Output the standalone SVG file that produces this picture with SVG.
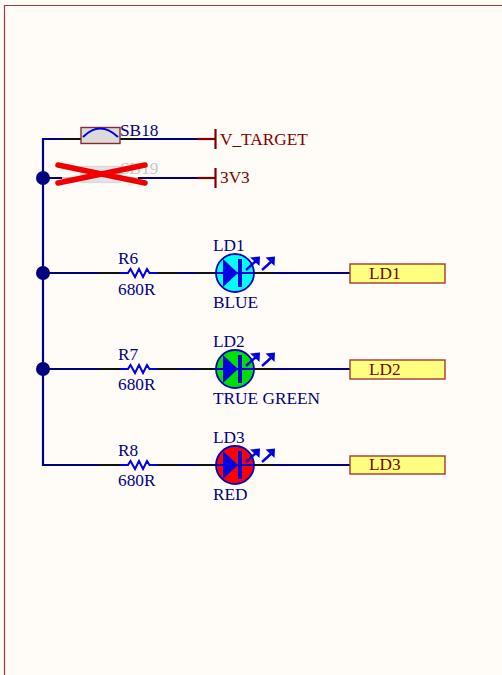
<svg xmlns="http://www.w3.org/2000/svg" width="502" height="675" viewBox="0 0 502 675">
<style>
text{font-family:"Liberation Serif","Times New Roman",serif;font-size:17.3px;fill:#000080}
.pw{fill:#800000}
.w,.k,.b,.r{fill:none;stroke-width:2.2}
.res{fill:none;stroke:#0000e0;stroke-width:2}
.w{stroke:#000080}.k{stroke:#111}.b{stroke:#0000e0}.r{stroke:#800000}
.dot{fill:#000080}
.led{stroke:#0000c0;stroke-width:1.8}
.tri{fill:#0000e0}
.arr{stroke:#0000e0;stroke-width:2.4;fill:none}
.head{fill:#0000e0}
.port{fill:#FFFF80;stroke:#A33A2A;stroke-width:1.4}
</style>
<rect width="502" height="675" fill="#FFFCF8"/>
<path d="M4.500 675V5.500H502" fill="none" stroke="#A33A3A" stroke-width="1.2"/>
<g id="connectors">
<path class="w" d="M62 139H43V465H100"/>
<path class="w" d="M43 178H62M43 273H100M43 369H100"/>
<path class="k" d="M62 139H81M120 139H138"/>
<path class="w" d="M138 139H197"/>
<path class="r" d="M197 139H215"/>
<path class="w" d="M138 178H197"/>
<path class="r" d="M197 178H215"/>
<path class="k" d="M100 273H120M158 273H178M197 273H216M254 273H273"/>
<path class="w" d="M178 273H197M273 273H350"/>
<path class="k" d="M100 369H120M158 369H178M197 369H216M254 369H273"/>
<path class="w" d="M178 369H197M273 369H350"/>
<path class="k" d="M100 465H120M158 465H178M197 465H216M254 465H273"/>
<path class="w" d="M178 465H197M273 465H350"/>
</g>
<g id="J1"><circle class="dot" cx="43" cy="178" r="7"/></g>
<g id="J2"><circle class="dot" cx="43" cy="273" r="7"/></g>
<g id="J3"><circle class="dot" cx="43" cy="369" r="7"/></g>
<g id="SB18">
<rect x="81" y="127.500" width="39" height="16" fill="#DADADA" stroke="#8A2A2A" stroke-width="1.400"/>
<path d="M83 137Q100 120 118 137" fill="none" stroke="#0000e0" stroke-width="2"/>
<text x="120" y="136">SB18</text>
</g>
<g id="SB19">
<rect x="81" y="166.500" width="39" height="16" fill="#E4E4E4" stroke="#D8D8D8" stroke-width="1.200"/>
<path d="M62 178H81M120 178H138" stroke="#C8C8C8" stroke-width="2.200" fill="none"/>
<text x="120" y="174" style="fill:#C8C8C8">SB19</text>
<path d="M58 165L145 183M58 183L145 165" stroke="#F00000" stroke-width="5.500" stroke-linecap="round" fill="none"/>
</g>
<g id="V_TARGET">
<path class="r" d="M215.500 129V149"/>
<text class="pw" x="220" y="145">V_TARGET</text>
</g>
<g id="P3V3">
<path class="r" d="M215.500 168V188"/>
<text class="pw" x="220" y="183">3V3</text>
</g>
<g id="R6">
<path class="res" d="M120 273H128L130.500 269L135 277L139 269L143 277L147 269L149.500 273H158"/>
<text x="118" y="264">R6</text>
<text x="118" y="295">680R</text>
</g>
<g id="R7">
<path class="res" d="M120 369H128L130.500 365L135 373L139 365L143 373L147 365L149.500 369H158"/>
<text x="118" y="360">R7</text>
<text x="118" y="390">680R</text>
</g>
<g id="R8">
<path class="res" d="M120 465H128L130.500 461L135 469L139 461L143 469L147 461L149.500 465H158"/>
<text x="118" y="456">R8</text>
<text x="118" y="486">680R</text>
</g>
<defs>
<g id="ledsym">
<path class="b" d="M-19 0H19"/>
<path class="tri" d="M-12 -14L3 0L-12 14Z"/>
<rect x="3" y="-14" width="4" height="28" fill="#0000e0"/>
<path class="arr" d="M11 -3L21 -12M27 -3L37 -12"/>
<path class="head" d="M15 -15.500L25 -16.500L24.500 -7ZM30.500 -15.500L40 -16.500L39.500 -7Z"/>
</g>
</defs>
<g id="LD1">
<circle class="led" cx="235" cy="273" r="19" fill="#00FFFF"/>
<use href="#ledsym" x="235" y="273"/>
<text x="213" y="251">LD1</text>
<text x="213" y="308">BLUE</text>
</g>
<g id="LD2">
<circle class="led" cx="235" cy="369" r="19" fill="#00E000"/>
<use href="#ledsym" x="235" y="369"/>
<text x="213" y="347">LD2</text>
<text x="213" y="404">TRUE GREEN</text>
</g>
<g id="LD3">
<circle class="led" cx="235" cy="465" r="19" fill="#FF0000"/>
<use href="#ledsym" x="235" y="465"/>
<text x="213" y="443">LD3</text>
<text x="213" y="500">RED</text>
</g>
<g id="PortLD1">
<rect class="port" x="350" y="264" width="95" height="19"/>
<text class="pw" x="369" y="279">LD1</text>
</g>
<g id="PortLD2">
<rect class="port" x="350" y="360" width="95" height="19"/>
<text class="pw" x="369" y="375">LD2</text>
</g>
<g id="PortLD3">
<rect class="port" x="350" y="456" width="95" height="18"/>
<text class="pw" x="369" y="470">LD3</text>
</g>
</svg>
